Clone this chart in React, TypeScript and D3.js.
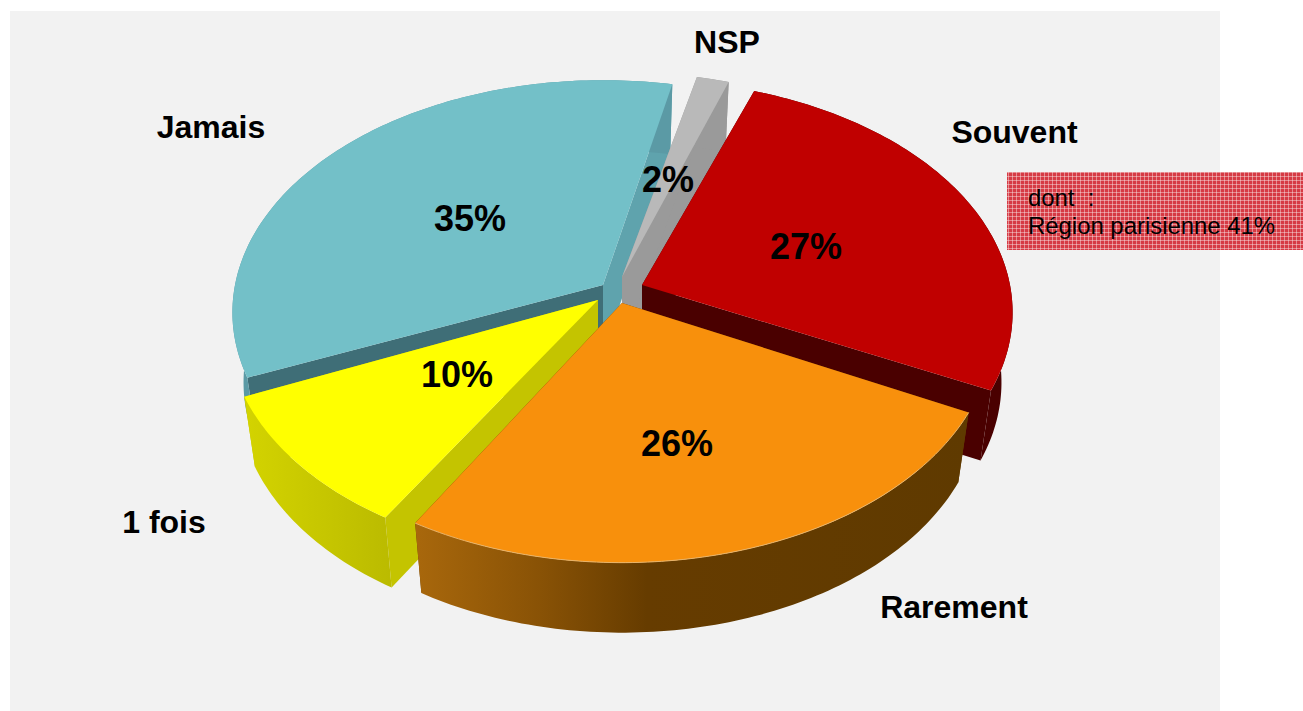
import React from "react";
import * as d3 from "d3";

const categories = ["Souvent", "Rarement", "1 fois", "Jamais", "NSP"];
const seriesValues = [27.1, 26.34, 9.86, 35.2, 1.6];
const pctLabels = ["27%", "26%", "10%", "35%", "2%"];
const calloutLines = ["dont  :", "Région parisienne 41%"];

// layout (separate from data)
const origins: [number, number][] = [[642, 285], [622, 303], [598, 300], [603, 285], [622, 277]];
const topColors = ["#c00000", "#f8900c", "#ffff00", "#73c0c8", "#b9b9b9"];
const outerFills = ["#4a0000", "url(#orangeWall)", "url(#yellowWall)", "#5b9aa5", "#9a9a9a"];
const cutStartFills = ["#4a0000", "#663c00", "#c4c400", "#3f6e77", "#9a9a9a"]; // wall at slice start edge
const cutEndFills = ["#4a0000", "#663c00", "#c4c400", "#5fa3ad", "#9a9a9a"];
const labelPos: [number, number][] = [[1014.5, 143], [954, 618], [164, 533], [211, 138], [727, 53]];
const pctPos: [number, number][] = [[806, 259], [677, 456], [457, 387], [470, 231], [668, 192]];
const drawOrder = [3, 4, 0, 2, 1];

const R = 368, A = 229, K = 0.118, DEPTH = 70, XS = 0.97;
const startDeg = 19.3;
const rad = Math.PI / 180;
const PAD = 1 * rad;

const pieGen = d3.pie<number>().sort(null).padAngle(PAD).startAngle(startDeg * rad).endAngle((startDeg + 360) * rad);
const arcs = pieGen(seriesValues).map((d) => ({ startAngle: d.startAngle + PAD / 2, endAngle: d.endAngle - PAD / 2 }));

function project(i: number, a: number, bottom = false, r = 1): [number, number] {
  const u = Math.sin(a) * r, v = -Math.cos(a) * r;
  const f = 1 / (1 - K * v);
  const [ox, oy] = origins[i];
  const dx = R * u * f, dy = A * v * f;
  return bottom ? [ox + dx * XS, oy + dy + DEPTH] : [ox + dx, oy + dy];
}

const line = d3.line();

function samples(a0: number, a1: number) {
  const n = Math.max(2, Math.ceil(((a1 - a0) * 180) / Math.PI));
  return d3.range(n + 1).map((k) => a0 + ((a1 - a0) * k) / n);
}

function topPath(i: number) {
  const { startAngle, endAngle } = arcs[i];
  const pts = samples(startAngle, endAngle).map((a) => project(i, a));
  return line([origins[i], ...pts])! + "Z";
}
function outerArc(i: number) {
  const { startAngle, endAngle } = arcs[i];
  return line(samples(startAngle, endAngle).map((a) => project(i, a)))!;
}
function outerWall(i: number) {
  const { startAngle, endAngle } = arcs[i];
  const s = samples(startAngle, endAngle);
  const pts = [...s.map((a) => project(i, a)), ...s.slice().reverse().map((a) => project(i, a, true))];
  return line(pts)! + "Z";
}
function cutWall(i: number, a: number) {
  const o = origins[i];
  return line([o, project(i, a), project(i, a, true), [o[0], o[1] + DEPTH]])! + "Z";
}

const font = "'Liberation Sans', Arial, sans-serif";

export default function App() {
  return (
    <svg width={1303} height={711} style={{ position: "fixed", left: 0, top: 0, display: "block", background: "#fff" }}>
      <defs>
        <linearGradient id="orangeWall" gradientUnits="userSpaceOnUse" x1={413} x2={970} y1={0} y2={0}>
          <stop offset="0" stopColor="#a9680c" />
          <stop offset="0.22" stopColor="#8a5306" />
          <stop offset="0.42" stopColor="#663c00" />
          <stop offset="1" stopColor="#5f3a00" />
        </linearGradient>
        <linearGradient id="yellowWall" gradientUnits="userSpaceOnUse" x1={241} x2={390} y1={0} y2={0}>
          <stop offset="0" stopColor="#d4d400" />
          <stop offset="1" stopColor="#bbbb00" />
        </linearGradient>
        <pattern id="dots" width={4} height={4} patternUnits="userSpaceOnUse">
          <rect width={4} height={4} fill="#d63a44" />
          <rect x={0} y={0} width={4} height={1} fill="#e58a8f" />
          <rect x={0} y={0} width={1} height={4} fill="#e58a8f" />
          <rect x={0} y={0} width={1} height={1} fill="#f0b4b8" />
        </pattern>
      </defs>
      <rect x={10} y={11} width={1210} height={700} fill="#f2f2f2" />
      {drawOrder.map((i) => (
        <g key={categories[i]}>
          <path d={cutWall(i, arcs[i].endAngle)} fill={cutEndFills[i]} />
          <path d={cutWall(i, arcs[i].startAngle)} fill={cutStartFills[i]} />
          <path d={outerWall(i)} fill={outerFills[i]} />
          <path d={topPath(i)} fill={topColors[i]} />
          {i === 1 && <path d={outerArc(i)} fill="none" stroke="#e9b368" strokeWidth={1} />}
        </g>
      ))}
      {categories.map((c, i) => (
        <text key={c} x={labelPos[i][0]} y={labelPos[i][1]} textAnchor="middle" fontFamily={font} fontWeight="bold" fontSize={32} fill="#000">
          {c}
        </text>
      ))}
      {pctLabels.map((c, i) => (
        <text key={c} x={pctPos[i][0]} y={pctPos[i][1]} textAnchor="middle" fontFamily={font} fontWeight="bold" fontSize={36} fill="#000">
          {c}
        </text>
      ))}
      <rect x={1007} y={172} width={296} height={78} fill="url(#dots)" />
      {calloutLines.map((t, i) => (
        <text key={t} x={1028} y={205.5 + i * 28} fontFamily={font} fontSize={23.9} fill="#000" xmlSpace="preserve">
          {t}
        </text>
      ))}
    </svg>
  );
}
